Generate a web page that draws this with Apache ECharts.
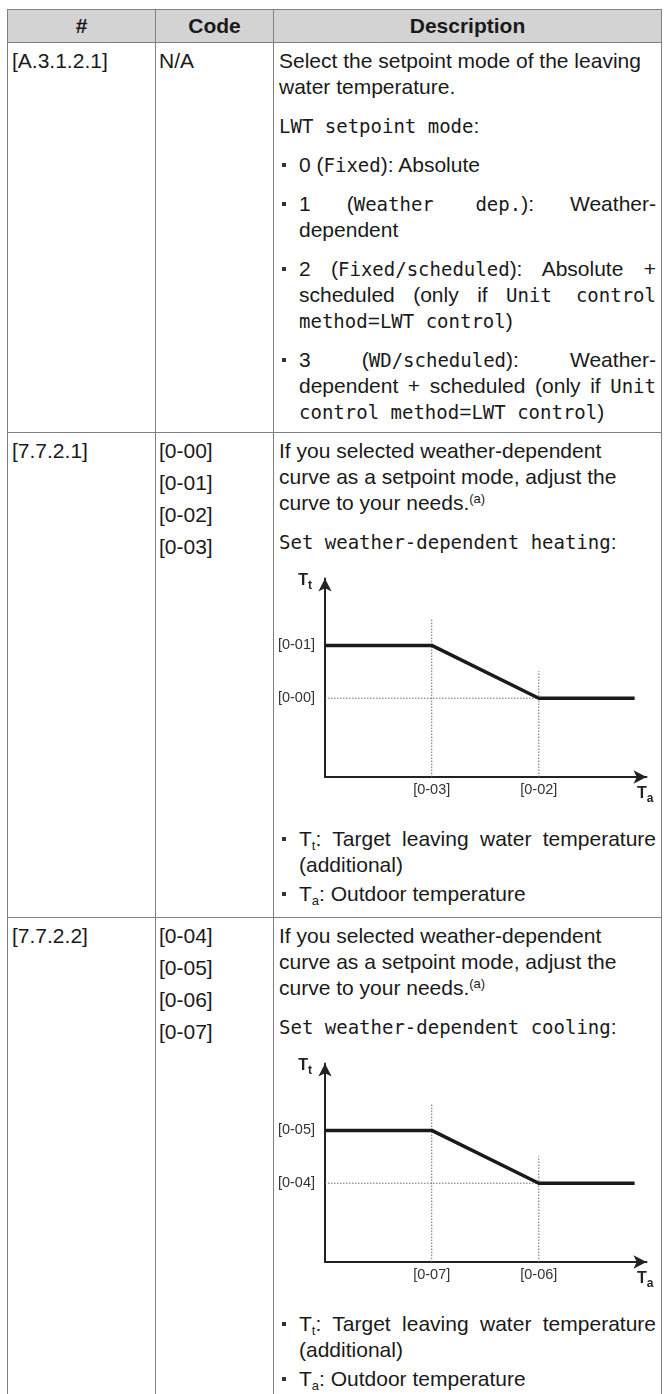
<!DOCTYPE html>
<html>
<head>
<meta charset="utf-8">
<script src="https://cdn.jsdelivr.net/npm/echarts@6/dist/echarts.min.js"></script>
<style>
  html, body { margin: 0; padding: 0; background: #fff; }
  body { width: 667px; height: 1394px; overflow: hidden; position: relative;
         font-family: "Liberation Sans", Arial, sans-serif; color: #1a1a1a; }
  table { position: absolute; left: 7px; top: 9px; width: 654px; border-collapse: collapse;
          table-layout: fixed; font-size: 21px; line-height: 26px; }
  th, td { border: 1px solid #808080; vertical-align: top; padding: 5px 5px 4px 4px; }
  th { background: #d3d3d3; font-weight: bold; text-align: center; padding: 3px 0; height: 25px; }
  td.code { padding-left: 3px; }
  td.desc { padding-left: 5px; padding-right: 5px; }
  p { margin: 0 0 13px 0; }
  td.code p { margin-bottom: 6px; }
  ul { list-style: none; margin: 0; padding: 0; }
  li { position: relative; padding-left: 20px; margin: 0 0 13px 0; text-align: justify; }
  li::before { content: ""; position: absolute; left: 3px; top: 11px; width: 4px; height: 4px; background: #333; }
  ul.legend li { margin-bottom: 3px; }
  .m { font-family: "DejaVu Sans Mono", monospace; font-size: 19px; }
  sup { font-size: 13px; line-height: 0; vertical-align: 7px; }
  sub { font-size: 13px; line-height: 0; vertical-align: -4px; }
  .chart { width: 377px; height: 258px; }
</style>
</head>
<body>
<table>
  <colgroup><col style="width:148px"><col style="width:118px"><col style="width:388px"></colgroup>
  <tr><th>#</th><th>Code</th><th>Description</th></tr>
  <tr style="height:390px">
    <td>[A.3.1.2.1]</td>
    <td class="code">N/A</td>
    <td class="desc">
      <p>Select the setpoint mode of the leaving<br>water temperature.</p>
      <p><span class="m">LWT setpoint mode</span>:</p>
      <ul>
        <li>0 (<span class="m">Fixed</span>): Absolute</li>
        <li>1 (<span class="m">Weather dep.</span>): Weather-dependent</li>
        <li>2 (<span class="m">Fixed/scheduled</span>): Absolute + scheduled (only if <span class="m">Unit control method</span>=<span class="m">LWT control</span>)</li>
        <li style="margin-bottom:0">3 (<span class="m">WD/scheduled</span>): Weather-dependent + scheduled (only if <span class="m">Unit control method</span>=<span class="m">LWT control</span>)</li>
      </ul>
    </td>
  </tr>
  <tr style="height:485px">
    <td>[7.7.2.1]</td>
    <td class="code"><p>[0-00]</p><p>[0-01]</p><p>[0-02]</p><p>[0-03]</p></td>
    <td class="desc">
      <p>If you selected weather-dependent<br>curve as a setpoint mode, adjust the<br>curve to your needs.<sup>(a)</sup></p>
      <p style="margin-bottom:0"><span class="m">Set weather-dependent heating</span>:</p>
      <div id="chart-heat" class="chart"></div>
      <ul class="legend" style="margin-top:13px">
        <li>T<sub>t</sub>: Target leaving water temperature (additional)</li>
        <li style="margin-bottom:0">T<sub>a</sub>: Outdoor temperature</li>
      </ul>
    </td>
  </tr>
  <tr style="height:600px">
    <td>[7.7.2.2]</td>
    <td class="code"><p>[0-04]</p><p>[0-05]</p><p>[0-06]</p><p>[0-07]</p></td>
    <td class="desc">
      <p>If you selected weather-dependent<br>curve as a setpoint mode, adjust the<br>curve to your needs.<sup>(a)</sup></p>
      <p style="margin-bottom:0"><span class="m">Set weather-dependent cooling</span>:</p>
      <div id="chart-cool" class="chart"></div>
      <ul class="legend" style="margin-top:13px">
        <li>T<sub>t</sub>: Target leaving water temperature (additional)</li>
        <li style="margin-bottom:0">T<sub>a</sub>: Outdoor temperature</li>
      </ul>
    </td>
  </tr>
</table>

<script>
// heating curve (outdoor temp -> target water temp), axis range 0..100
const heatCurveX = [0, 33.2, 66.5, 96.3];
const heatCurveY = [66.3, 66.3, 39.7, 39.7];
const heatXTickValues = [33.2, 66.5];
const heatXTickLabels = ['[0-03]', '[0-02]'];
const heatYTickValues = [66.3, 39.7];
const heatYTickLabels = ['[0-01]', '[0-00]'];
const heatGuideTops = [79.4, 53.3];   // upper end of the dotted verticals

// cooling curve
const coolCurveX = [0, 33.2, 66.5, 96.3];
const coolCurveY = [66.3, 66.3, 39.7, 39.7];
const coolXTickValues = [33.2, 66.5];
const coolXTickLabels = ['[0-07]', '[0-06]'];
const coolYTickValues = [66.3, 39.7];
const coolYTickLabels = ['[0-05]', '[0-04]'];
const coolGuideTops = [79.4, 53.3];

function initCurve(domId, curveX, curveY, xVals, xLabels, yVals, yLabels, guideTops) {
  const myChart = echarts.init(document.getElementById(domId));
  const dotted = { color: '#6b6b6b', width: 1, type: [1.5, 1.5] };
  const guides = [];
  // dotted verticals at the break points
  xVals.forEach(function (x, i) {
    guides.push({
      type: 'line', symbol: 'none', silent: true, z: 2,
      lineStyle: dotted,
      data: [[x, 0], [x, guideTops[i]]]
    });
  });
  // dotted horizontal at the lower setpoint
  guides.push({
    type: 'line', symbol: 'none', silent: true, z: 2,
    lineStyle: dotted,
    data: [[0, yVals[1]], [xVals[1], yVals[1]]]
  });

  const axisLine = {
    show: true,
    onZero: false,
    symbol: ['none', 'arrow'],
    symbolSize: [10, 13],
    lineStyle: { color: '#222', width: 2 }
  };
  const nameRich = {
    m: { fontSize: 16, fontWeight: 'bold', color: '#222', lineHeight: 22, verticalAlign: 'middle', fontFamily: 'Liberation Sans' },
    s: { fontSize: 12, fontWeight: 'bold', color: '#222', lineHeight: 22, verticalAlign: 'bottom', fontFamily: 'Liberation Sans' }
  };

  myChart.setOption({
    animation: false,
    grid: { left: 46, right: 9.5, top: 23.5, bottom: 36, outerBoundsMode: 'none' },
    xAxis: {
      type: 'value', min: 0, max: 100,
      axisLine: axisLine,
      axisTick: { show: false },
      splitLine: { show: false },
      axisLabel: {
        customValues: xVals,
        margin: 5,
        color: '#333',
        fontSize: 14.5,
        fontFamily: 'Liberation Sans',
        formatter: function (v) { return xLabels[xVals.indexOf(v)]; }
      },
      name: '{m|T}{s|a}',
      nameLocation: 'end',
      nameGap: 7,
      nameTextStyle: { align: 'right', verticalAlign: 'top', padding: [6, 0, 0, 0], rich: nameRich }
    },
    yAxis: {
      type: 'value', min: 0, max: 100,
      axisLine: axisLine,
      axisTick: { show: false },
      splitLine: { show: false },
      axisLabel: {
        customValues: yVals,
        margin: 10,
        color: '#333',
        fontSize: 14.5,
        fontFamily: 'Liberation Sans',
        formatter: function (v) { return yLabels[yVals.indexOf(v)]; }
      },
      name: '{m|T}{s|t}',
      nameLocation: 'end',
      nameGap: -2,
      nameTextStyle: { align: 'right', verticalAlign: 'middle', padding: [0, 13, 0, 0], rich: nameRich }
    },
    series: guides.concat([{
      type: 'line',
      symbol: 'none',
      silent: true,
      z: 5,
      lineStyle: { color: '#1a1a1a', width: 3.5 },
      data: curveX.map(function (x, i) { return [x, curveY[i]]; })
    }])
  });
  return myChart;
}

initCurve('chart-heat', heatCurveX, heatCurveY, heatXTickValues, heatXTickLabels, heatYTickValues, heatYTickLabels, heatGuideTops);
initCurve('chart-cool', coolCurveX, coolCurveY, coolXTickValues, coolXTickLabels, coolYTickValues, coolYTickLabels, coolGuideTops);
</script>
</body>
</html>
